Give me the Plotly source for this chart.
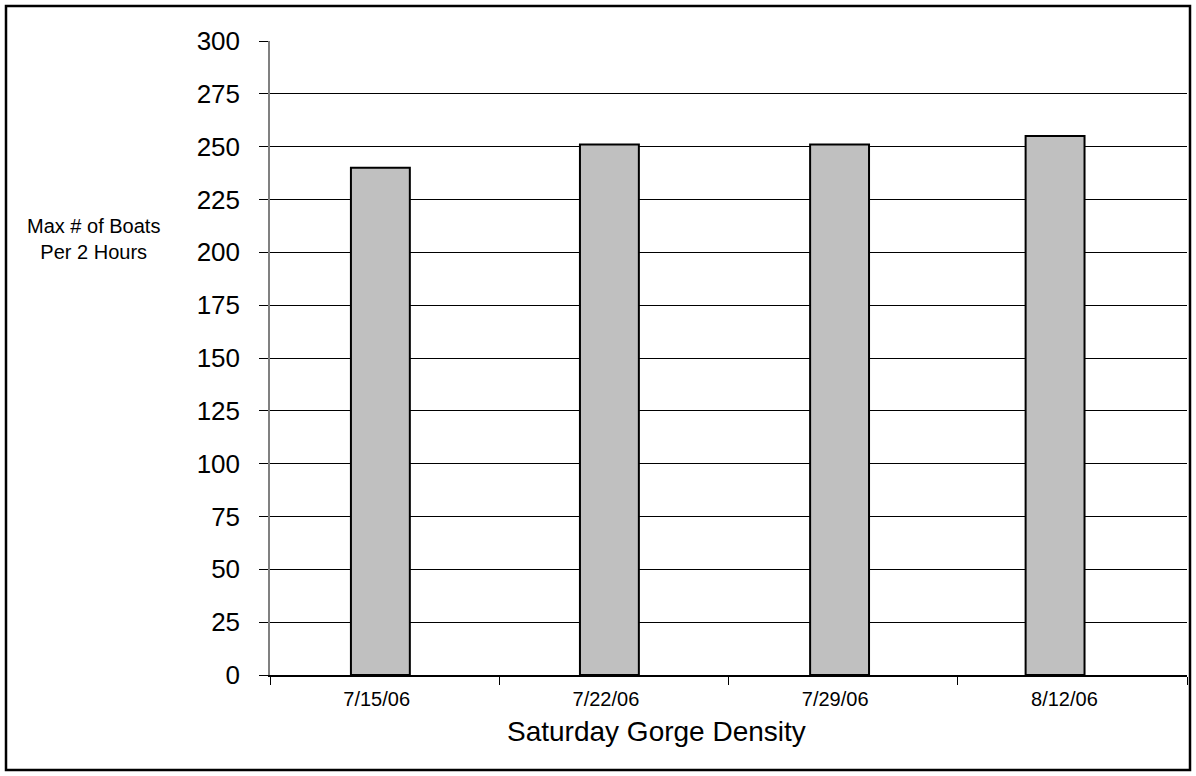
import plotly.graph_objects as go

categories = ["7/15/06", "7/22/06", "7/29/06", "8/12/06"]
values = [240, 251, 251, 255]
y_ticks = list(range(0, 301, 25))

L, R, T, B = 270, 1187, 41, 675
W, H = 1196, 776

fig = go.Figure(go.Bar(
    x=categories, y=values,
    marker=dict(color="#C0C0C0", line=dict(color="black", width=2)),
    width=0.257,
    offset=[-0.147, -0.148, -0.144, -0.204],
))

def px(x):
    return (x - L) / (R - L)

def py(y):
    return (B - y) / (B - T)

fig.update_layout(
    width=W, height=H,
    margin=dict(l=L, r=W - R, t=T, b=H - B),
    paper_bgcolor="white", plot_bgcolor="white",
    font=dict(family="Liberation Sans, Arial", color="black"),
    showlegend=False,
    xaxis=dict(
        showline=True, linecolor="black", linewidth=1.5,
        ticks="outside", tickson="boundaries", ticklen=8, tickcolor="black",
        tickfont=dict(size=20), showgrid=False,
        ticklabelstandoff=5, ticklabelshift=-8,
    ),
    yaxis=dict(
        range=[0, 300], tickvals=y_ticks,
        showline=True, linecolor="#808080", linewidth=1.5,
        ticks="outside", ticklen=9, tickcolor="black",
        tickfont=dict(size=26), showgrid=True, gridcolor="black", gridwidth=1,
        zeroline=False, ticklabelstandoff=14,
    ),
    annotations=[
        dict(
            text="Max # of Boats<br>Per 2 Hours", xref="paper", yref="paper",
            x=px(93), y=py(239), showarrow=False, font=dict(size=20),
            xanchor="center", yanchor="middle", align="center",
        ),
        dict(
            text="Saturday Gorge Density", xref="paper", yref="paper",
            x=px(656), y=py(732), showarrow=False, font=dict(size=28),
            xanchor="center", yanchor="middle",
        ),
    ],
    shapes=[dict(
        type="rect", xref="paper", yref="paper",
        x0=px(6), x1=px(1190), y0=py(770), y1=py(6),
        line=dict(color="black", width=2.5), layer="below",
    )],
)

fig.write_html("out.html")
